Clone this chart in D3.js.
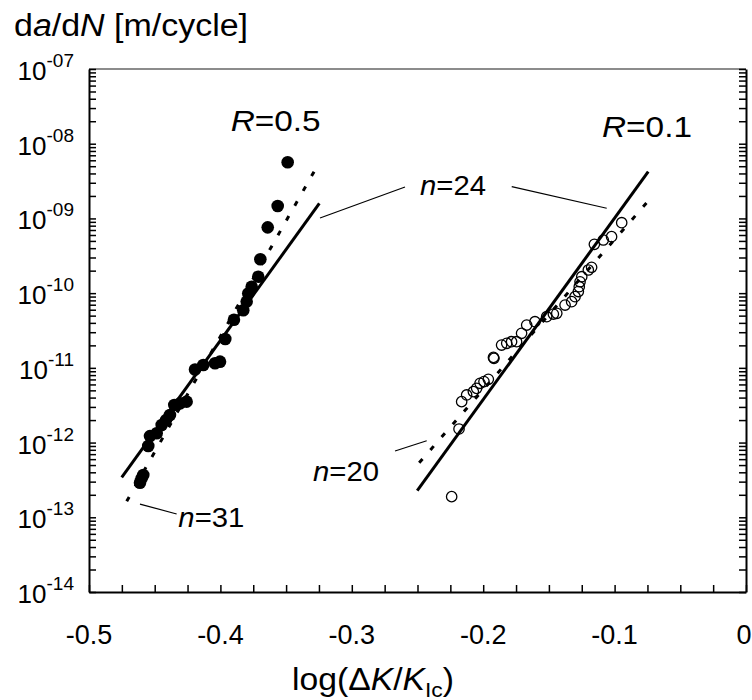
<!DOCTYPE html>
<html>
<head>
<meta charset="utf-8">
<script src="https://cdn.jsdelivr.net/npm/d3@7"></script>
<style>
  body { margin: 0; background: #fff; }
  svg { display: block; font-family: "Liberation Sans", Arial, sans-serif; }
</style>
</head>
<body>
<div id="chart"></div>
<script>
// Données : x = log(ΔK/KIc), y = da/dN [m/cycle]
const r05X = [-0.3488, -0.3564, -0.3640, -0.3696, -0.3712, -0.3762, -0.3788, -0.3800, -0.3826,
    -0.3897, -0.3963, -0.4003, -0.4041, -0.4130, -0.4193, -0.4257, -0.4307, -0.4351, -0.4384,
    -0.4414, -0.4447, -0.4485, -0.4536, -0.4549, -0.4587, -0.4600, -0.4612];
const r05Y = [5.64e-9, 1.47e-9, 7.6e-10, 2.84e-10, 1.66e-10, 1.22e-10, 9.9e-11, 7.7e-11, 5.9e-11,
    4.4e-11, 2.43e-11, 1.21e-11, 1.15e-11, 1.09e-11, 9.5e-12, 3.53e-12, 3.35e-12, 3.18e-12, 2.34e-12,
    2.0e-12, 1.72e-12, 1.33e-12, 1.22e-12, 9.0e-13, 3.68e-13, 3.32e-13, 2.9e-13];

const r01X = [-0.0946, -0.1023, -0.1086, -0.1154, -0.1175, -0.1200, -0.1250, -0.1263, -0.1269,
    -0.1276, -0.1301, -0.1327, -0.1377, -0.1440, -0.1466, -0.1517, -0.1606, -0.1669, -0.1708,
    -0.1746, -0.1784, -0.1821, -0.1860, -0.1918, -0.1922, -0.1961, -0.1994, -0.2024, -0.2050,
    -0.2075, -0.2126, -0.2164, -0.2184, -0.2240];
const r01Y = [8.77e-10, 5.7e-10, 5.14e-10, 4.5e-10, 2.22e-10, 2.04e-10, 1.66e-10, 1.42e-10, 1.22e-10,
    1.05e-10, 8.97e-11, 7.69e-11, 6.93e-11, 5.37e-11, 5.25e-11, 4.84e-11, 4.15e-11, 3.74e-11, 2.9e-11,
    2.24e-11, 2.24e-11, 2.13e-11, 2.02e-11, 1.34e-11, 1.38e-11, 7.03e-12, 6.55e-12, 6.21e-12, 5.32e-12,
    4.81e-12, 4.34e-12, 3.53e-12, 1.52e-12, 1.89e-13];

// Droites de Paris (extrémités)
const fitR05X = [-0.4751, -0.3247];      // n=24, trait plein
const fitR05Y = [3.43e-13, 1.59e-9];
const fitR05DotX = [-0.4713, -0.3255];   // n=31, pointillés
const fitR05DotY = [1.64e-13, 5.31e-9];
const fitR01X = [-0.2502, -0.0744];      // n=24, trait plein
const fitR01Y = [2.27e-13, 4.23e-9];
const fitR01DotX = [-0.2487, -0.0744];   // n=20, pointillés
const fitR01DotY = [5.38e-13, 1.71e-9];

// Graduations
const xTickLabels = [-0.5, -0.4, -0.3, -0.2, -0.1, 0];
const xMinorStep = 0.025;
const yExponents = [-7, -8, -9, -10, -11, -12, -13, -14];

const width = 752, height = 700;
const margin = { top: 69, right: 6, bottom: 108, left: 89 };

const svg = d3.select("#chart").append("svg")
    .attr("width", width)
    .attr("height", height);

const x = d3.scaleLinear().domain([-0.5, 0]).range([margin.left, width - margin.right]);
const y = d3.scaleLog().domain([1e-14, 1e-7]).range([height - margin.bottom, margin.top]);

// Cadre du haut (gris)
svg.append("line")
    .attr("x1", x(-0.5)).attr("x2", x(0))
    .attr("y1", y(1e-7)).attr("y2", y(1e-7))
    .attr("stroke", "#8c8c8c").attr("stroke-width", 2);

// Axes avec graduations intérieures
const xTicks = d3.range(0, 21).map(i => -0.5 + i * xMinorStep);
const yTicks = y.ticks();

function styleAxis(g) {
    g.selectAll("text").remove();
    g.select(".domain").attr("stroke", "#000").attr("stroke-width", 2);
    g.selectAll(".tick line").attr("stroke", "#000").attr("stroke-width", 1.5);
}

svg.append("g")
    .attr("transform", `translate(0,${y(1e-14)})`)
    .call(d3.axisBottom(x).tickValues(xTicks).tickSizeInner(-7).tickSizeOuter(0))
    .call(styleAxis);

svg.append("g")
    .attr("transform", `translate(${x(-0.5)},0)`)
    .call(d3.axisLeft(y).tickValues(yTicks).tickSizeInner(-7).tickSizeOuter(0))
    .call(styleAxis);

svg.append("g")
    .attr("transform", `translate(${x(0)},0)`)
    .call(d3.axisRight(y).tickValues(yTicks).tickSizeInner(-7).tickSizeOuter(0))
    .call(styleAxis);

// Étiquettes des axes
svg.append("g").selectAll("text")
    .data(xTickLabels)
    .join("text")
    .attr("x", d => x(d) - (d === 0 ? 2 : 0))
    .attr("y", 644)
    .attr("text-anchor", "middle")
    .attr("font-size", 27)
    .text(d => d === 0 ? "0" : d.toFixed(1));

const yLab = svg.append("g").selectAll("text")
    .data(yExponents)
    .join("text")
    .attr("x", 74)
    .attr("y", d => y(Math.pow(10, d)) + 11)
    .attr("text-anchor", "end")
    .attr("font-size", 26);
yLab.append("tspan").text("10");
yLab.append("tspan")
    .attr("font-size", 19)
    .attr("dy", -13)
    .text(d => "-" + String(-d).padStart(2, "0"));

// Titre de l'axe Y (police un peu étirée comme dans l'original)
const title = svg.append("text")
    .attr("x", 14).attr("y", 36)
    .attr("font-size", 31)
    .attr("textLength", 234)
    .attr("lengthAdjust", "spacingAndGlyphs");
title.append("tspan").text("d");
title.append("tspan").attr("font-style", "italic").text("a");
title.append("tspan").text("/d");
title.append("tspan").attr("font-style", "italic").text("N");
title.append("tspan").text(" [m/cycle]");

// Titre de l'axe X
const xTitle = svg.append("text")
    .attr("x", 373).attr("y", 690)
    .attr("text-anchor", "middle")
    .attr("font-size", 31)
    .attr("textLength", 162)
    .attr("lengthAdjust", "spacingAndGlyphs");
xTitle.append("tspan").text("log(Δ");
xTitle.append("tspan").attr("font-style", "italic").text("K");
xTitle.append("tspan").text("/");
xTitle.append("tspan").attr("font-style", "italic").text("K");
xTitle.append("tspan").attr("font-size", 21).attr("dy", 7).text("Ic");
xTitle.append("tspan").attr("dy", -7).text(")");

// Droites
function fitLine(xs, ys, dashed) {
    svg.append("line")
        .attr("x1", x(xs[0])).attr("y1", y(ys[0]))
        .attr("x2", x(xs[1])).attr("y2", y(ys[1]))
        .attr("stroke", "#000")
        .attr("stroke-width", 3)
        .attr("stroke-dasharray", dashed ? "5,12" : null);
}
fitLine(fitR05X, fitR05Y, false);
fitLine(fitR05DotX, fitR05DotY, true);
fitLine(fitR01X, fitR01Y, false);
fitLine(fitR01DotX, fitR01DotY, true);

// Points R=0.5 (pleins)
svg.append("g").selectAll("circle")
    .data(d3.zip(r05X, r05Y))
    .join("circle")
    .attr("cx", d => x(d[0]))
    .attr("cy", d => y(d[1]))
    .attr("r", 6.3)
    .attr("fill", "#000");

// Points R=0.1 (vides)
svg.append("g").selectAll("circle")
    .data(d3.zip(r01X, r01Y))
    .join("circle")
    .attr("cx", d => x(d[0]))
    .attr("cy", d => y(d[1]))
    .attr("r", 5.2)
    .attr("fill", "none")
    .attr("stroke", "#000")
    .attr("stroke-width", 1.3);

// Annotations
function label(px, py, size, len, italicPart, rest) {
    const t = svg.append("text")
        .attr("x", x(px)).attr("y", y(py))
        .attr("font-size", size)
        .attr("textLength", len)
        .attr("lengthAdjust", "spacingAndGlyphs");
    t.append("tspan").attr("font-style", "italic").text(italicPart);
    t.append("tspan").text(rest);
}
label(-0.3922, Math.pow(10, -7.83), 30, 90, "R", "=0.5");
label(-0.1096, Math.pow(10, -7.91), 30, 90, "R", "=0.1");
label(-0.2481, Math.pow(10, -8.686), 27, 66, "n", "=24");
label(-0.3295, Math.pow(10, -12.515), 27, 66, "n", "=20");
label(-0.4320, Math.pow(10, -13.13), 27, 66, "n", "=31");

function leader(x1, e1, x2, e2) {
    svg.append("line")
        .attr("x1", x(x1)).attr("y1", y(Math.pow(10, e1)))
        .attr("x2", x(x2)).attr("y2", y(Math.pow(10, e2)))
        .attr("stroke", "#000").attr("stroke-width", 1.2);
}
leader(-0.3242, -8.994, -0.2595, -8.579);
leader(-0.1783, -8.575, -0.1060, -8.864);
leader(-0.2671, -12.113, -0.2430, -11.975);
leader(-0.4612, -12.823, -0.4333, -12.956);
</script>
</body>
</html>
